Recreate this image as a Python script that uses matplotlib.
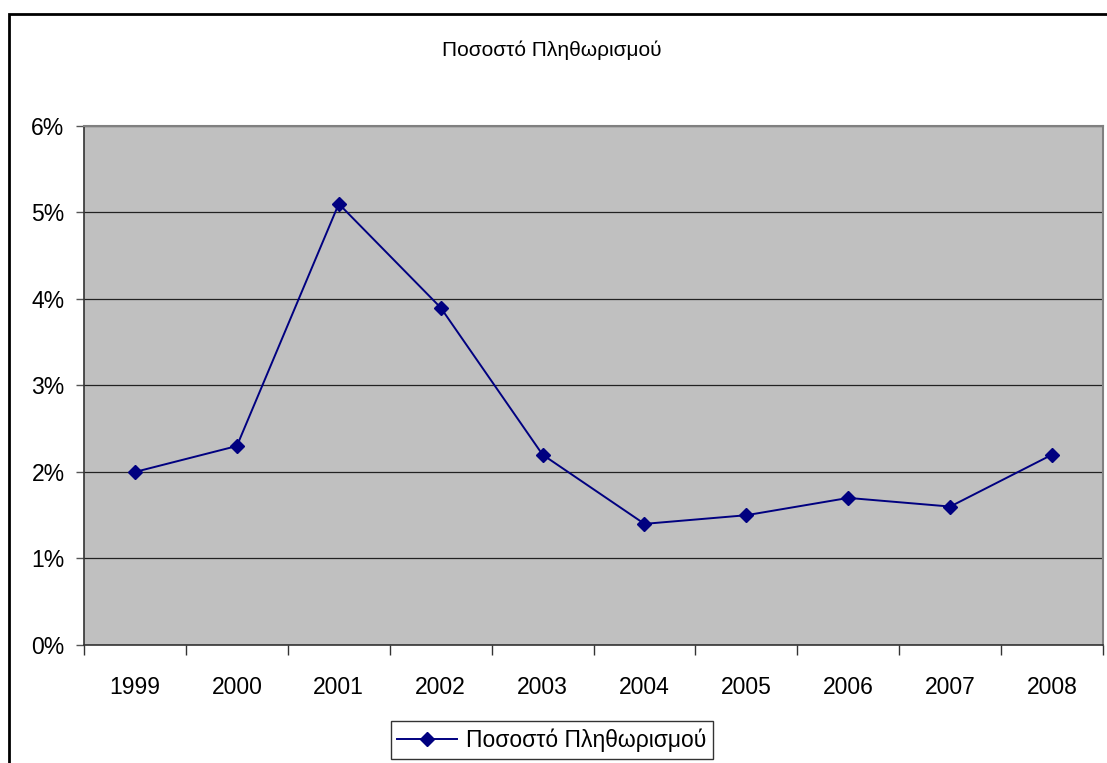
import numpy as np
import matplotlib.pyplot as plt
from matplotlib.patches import Rectangle
from matplotlib.ticker import FixedLocator, PercentFormatter

plt.rcParams["font.family"] = ["Liberation Sans", "DejaVu Sans"]

years = ["1999", "2000", "2001", "2002", "2003", "2004", "2005", "2006", "2007", "2008"]
inflation = [2.0, 2.3, 5.1, 3.9, 2.2, 1.4, 1.5, 1.7, 1.6, 2.2]
y_ticks = [0, 1, 2, 3, 4, 5, 6]
series_name = "Ποσοστό Πληθωρισμού"

fig = plt.figure(figsize=(11.07, 7.63), dpi=100)
ax = fig.add_axes([0.0759, 0.1547, 0.9205, 0.6802])

# outer chart frame
frame = Rectangle((9 / 1107, -0.05), 1.05, (763 - 14) / 763 + 0.05,
                  transform=fig.transFigure, fill=False, edgecolor="black",
                  linewidth=2, clip_on=False)
fig.patches.append(frame)

ax.set_facecolor("#C0C0C0")
x = np.arange(len(years))
ax.plot(x, inflation, color="#000080", linewidth=1.4, marker="D",
        markersize=7, markerfacecolor="#000080", markeredgecolor="#000080",
        label=series_name, zorder=3)

ax.set_xlim(-0.5, len(years) - 0.5)
ax.set_ylim(0, 6)
ax.set_yticks(y_ticks)
ax.yaxis.set_major_formatter(PercentFormatter(decimals=0))
ax.grid(axis="y", color="#222222", linewidth=0.9)
ax.set_axisbelow(True)

ax.set_xticks(x)
ax.set_xticklabels(years)
ax.xaxis.set_minor_locator(FixedLocator(np.arange(-0.5, len(years), 1.0)))
ax.tick_params(axis="x", which="major", length=0, pad=22, labelsize=16.5)
ax.tick_params(axis="x", which="minor", length=7, width=1, color="#333333")
ax.tick_params(axis="y", length=6, width=1, color="#555555", pad=8, labelsize=16.5)

for side in ["top", "right"]:
    ax.spines[side].set_color("#808080")
    ax.spines[side].set_linewidth(1.5)
for side in ["left", "bottom"]:
    ax.spines[side].set_color("#333333")
    ax.spines[side].set_linewidth(1.2)

fig.text(0.4986, 1 - 50 / 763, series_name, ha="center", va="center", fontsize=15)

leg = ax.legend(loc="center", bbox_to_anchor=(552 / 1107, 1 - 740 / 763),
                bbox_transform=fig.transFigure, fontsize=16.5, frameon=True,
                fancybox=False, handlelength=2.6, handletextpad=0.4,
                borderpad=0.3, borderaxespad=0)
leg.get_frame().set_edgecolor("black")
leg.get_frame().set_linewidth(1)

fig.savefig("out.png", dpi=100)
